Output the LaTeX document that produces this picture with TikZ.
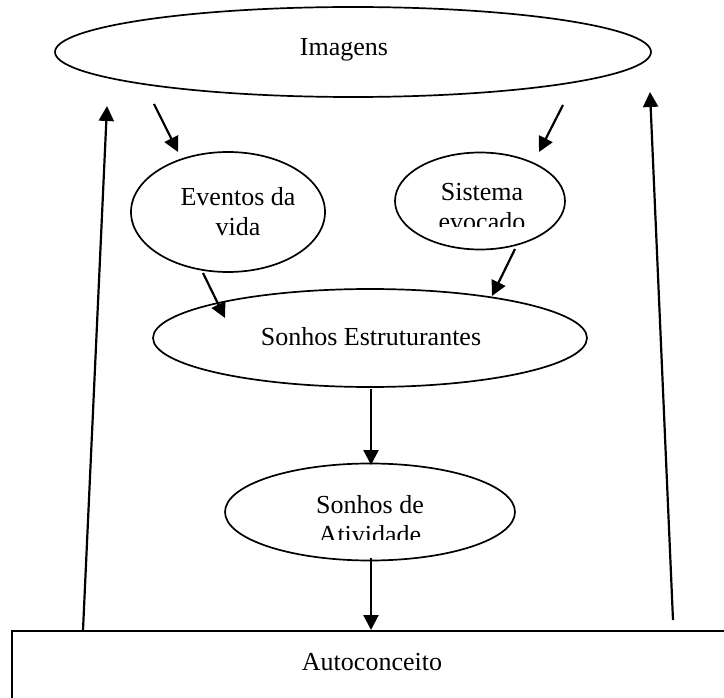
\documentclass[tikz,border=0pt]{standalone}
\usepackage{fontspec}
\setmainfont{Liberation Serif}
\usetikzlibrary{shapes.geometric,arrows.meta}
\begin{document}
\begin{tikzpicture}[x=1pt,y=-1pt,
  shapeline/.style={draw=black,line width=1.7pt},
  oval/.style={shapeline,ellipse,inner sep=0pt},
  lbl/.style={font=\fontsize{26}{30}\selectfont,align=center,inner sep=0pt},
  arr/.style={line width=2.2pt,-{Triangle[length=15pt,width=15pt]}},
  plain/.style={line width=2pt}]
\useasboundingbox (0,0) rectangle (724,698);
\clip (0,0) rectangle (724,698);
\fill[white] (0,0) rectangle (724,698);

% shapes
\node[oval,minimum width=596pt,minimum height=90pt] (img) at (353,52) {};
\node[oval,minimum width=194pt,minimum height=120pt] (ev) at (228,212) {};
\node[oval,minimum width=170pt,minimum height=97pt] (sis) at (480,201) {};
\node[oval,minimum width=434pt,minimum height=98pt] (se) at (370,338) {};
\node[oval,minimum width=290pt,minimum height=97pt] (sa) at (370,512) {};
\node[shapeline,rectangle,anchor=north west,minimum width=740pt,minimum height=100pt] (auto) at (11,630) {};

% texts
\node[lbl] (imgt) at (344,50) {Imagens};
\node[lbl] (evt) at (238,212) {Eventos da\\vida};
\begin{scope}
  \clip (390,150) rectangle (570,227);
  \node[lbl] (sist) at (482,207) {Sistema\\evocado};
\end{scope}
\node[lbl] (set) at (371,337) {Sonhos Estruturantes};
\begin{scope}
  \clip (220,460) rectangle (520,539);
  \node[lbl] (sat) at (370,520) {Sonhos de\\Atividade};
\end{scope}
\node[lbl] (autot) at (372,662) {Autoconceito};

% connector end points
\coordinate (a1s) at (154,104); \coordinate (a1e) at (178,152);
\coordinate (a2s) at (563,105); \coordinate (a2e) at (539,152);
\coordinate (a3s) at (203,273); \coordinate (a3e) at (225,318);
\coordinate (a4s) at (515,249); \coordinate (a4e) at (492,296);
\coordinate (a5s) at (371,389); \coordinate (a5e) at (371,465);
\coordinate (a6s) at (371,558); \coordinate (a6e) at (371,630);
\coordinate (a7s) at (83,630);  \coordinate (a7e) at (107,106);
\coordinate (a8s) at (673,620); \coordinate (a8e) at (650,92);

\draw[arr] (a1s) -- (a1e);
\draw[arr] (a2s) -- (a2e);
\draw[arr] (a3s) -- (a3e);
\draw[arr] (a4s) -- (a4e);
\draw[arr] (a5s) -- (a5e);
\draw[arr] (a6s) -- (a6e);
\draw[arr] (a7s) -- (a7e);
\draw[arr] (a8s) -- (a8e);
\end{tikzpicture}
\end{document}
